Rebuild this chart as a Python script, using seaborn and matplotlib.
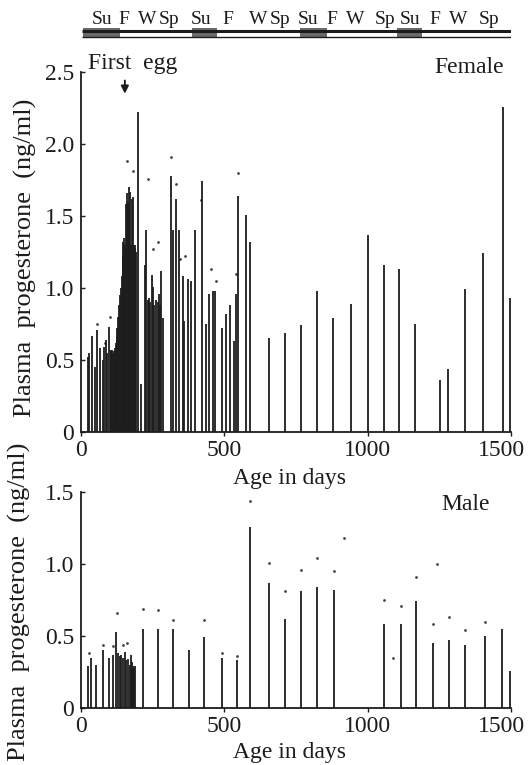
import numpy as np
import pandas as pd
import seaborn as sns
import matplotlib
matplotlib.use("Agg")
import matplotlib.pyplot as plt
from matplotlib.patches import Rectangle
from matplotlib.transforms import ScaledTranslation

# ---------------- data ----------------
season_labels = ["Su", "F", "W", "Sp", "Su", "F", "W", "Sp",
                 "Su", "F", "W", "Sp", "Su", "F", "W", "Sp"]
season_days = [72, 150, 232, 307, 418, 511, 618, 694,
               793, 874, 956, 1060, 1148, 1235, 1316, 1423]
summer_starts = [7, 387, 764, 1102]
summer_ends = [136, 474, 858, 1189]

female_days = [
    26, 29, 38, 50, 55, 66, 76, 80, 87, 92, 99,
    103, 106, 109, 112, 115, 118, 121, 124, 127, 130, 133, 136, 139, 142,
    145, 148, 151, 154, 157, 160, 163, 166, 169, 172, 175, 178, 181, 184,
    187, 190, 193,
    200, 208, 223, 226, 232, 237, 241, 246, 251, 256, 263, 267, 272, 276,
    280, 286,
    313, 320, 330, 343, 355, 361, 372, 383, 398, 421, 435, 448, 462, 468,
    492, 505, 520, 534, 540, 547, 575, 590,
    655, 710, 769, 824, 880, 943, 1002, 1057, 1109, 1165, 1252, 1281, 1339,
    1403, 1473, 1497]
female_values = [
    0.52, 0.55, 0.67, 0.45, 0.71, 0.58, 0.50, 0.59, 0.64, 0.55, 0.73,
    0.57, 0.56, 0.57, 0.55, 0.56, 0.58, 0.62, 0.66, 0.72, 0.80, 0.88, 0.95,
    1.00, 1.08, 1.22, 1.32, 1.35, 1.30, 1.58, 1.66, 1.60, 1.55, 1.70, 1.67,
    1.30, 1.62, 1.63, 1.30, 1.28, 1.30, 1.25,
    2.22, 0.33, 1.16, 1.40, 0.92, 0.93, 0.90, 1.09, 1.01, 0.88, 0.92, 0.90,
    0.96, 0.88, 1.12, 0.79,
    1.78, 1.40, 1.62, 1.40, 1.08, 0.77, 1.06, 1.05, 1.40, 1.74, 0.75, 0.96,
    0.98, 0.98, 0.72, 0.82, 0.88, 0.63, 0.96, 1.64, 1.51, 1.32,
    0.65, 0.69, 0.74, 0.98, 0.79, 0.89, 1.37, 1.16, 1.13, 0.75, 0.36, 0.44,
    0.99, 1.24, 2.26, 0.93]

female_dot_days = [55, 85, 100, 160, 181, 232, 250, 270, 314, 330, 345, 364,
                   418, 455, 470, 540, 546]
female_dot_values = [0.75, 0.62, 0.80, 1.88, 1.81, 1.76, 1.27, 1.32, 1.91,
                     1.72, 1.20, 1.22, 1.61, 1.13, 1.05, 1.10, 1.80]

male_days = [26, 34, 51, 78, 96, 111, 122, 130, 135, 141, 145, 153, 158, 165,
             170, 174, 178, 182, 185, 188, 215, 270, 322, 378, 429, 491, 543,
             590, 656, 710, 767, 824, 882, 1057, 1115, 1170, 1228, 1282, 1340,
             1409, 1468, 1497]
male_values = [0.29, 0.35, 0.30, 0.40, 0.35, 0.37, 0.53, 0.38, 0.36, 0.37,
               0.35, 0.39, 0.33, 0.34, 0.30, 0.37, 0.32, 0.29, 0.28, 0.29,
               0.55, 0.55, 0.55, 0.40, 0.49, 0.35, 0.33,
               1.26, 0.87, 0.62, 0.81, 0.84, 0.82, 0.58, 0.58, 0.74, 0.45,
               0.47, 0.44, 0.50, 0.55, 0.26]

male_dot_days = [29, 78, 111, 125, 145, 160, 215, 270, 322, 429, 491, 543,
                 590, 656, 710, 767, 824, 882, 917, 1057, 1090, 1115, 1170,
                 1228, 1242, 1282, 1340, 1409]
male_dot_values = [0.38, 0.44, 0.43, 0.66, 0.44, 0.45, 0.69, 0.68, 0.61, 0.61,
                   0.38, 0.36, 1.44, 1.01, 0.81, 0.96, 1.04, 0.95, 1.18, 0.75,
                   0.35, 0.71, 0.91, 0.58, 1.00, 0.63, 0.54, 0.60]

female_yticks = [0, 0.5, 1.0, 1.5, 2.0, 2.5]
female_yticklabels = ["0", "0.5", "1.0", "1.5", "2.0", "2.5"]
male_yticks = [0, 0.5, 1.0, 1.5]
male_yticklabels = ["0", "0.5", "1.0", "1.5"]
xticks = [0, 500, 1000, 1500]
xticklabels = ["0", "500", "1000", "1500"]

# ---------------- style ----------------
sns.set_style("ticks")
plt.rcParams["font.family"] = ["Liberation Serif", "DejaVu Serif"]
INK = "#1c1c1c"
YLABEL = "Plasma  progesterone  (ng/ml)"

W, H = 528, 765
fig = plt.figure(figsize=(W / 100, H / 100), dpi=100)
fig.patch.set_facecolor("white")


def ax_at(l, t, r, b):
    return fig.add_axes([l / W, 1 - b / H, (r - l) / W, (b - t) / H])


ax_f = ax_at(81, 72, 511, 432)
ax_m = ax_at(81, 492, 511, 708)
ax_s = ax_at(81, 6, 511, 42)

female = pd.DataFrame({"day": female_days, "value": female_values})
male = pd.DataFrame({"day": male_days, "value": male_values})
fdots = pd.DataFrame({"day": female_dot_days, "value": female_dot_values})
mdots = pd.DataFrame({"day": male_dot_days, "value": male_dot_values})


def style_axes(ax, ylim, yt, ytl):
    ax.set_xlim(0, 1500)
    ax.set_ylim(*ylim)
    ax.set_xticks(xticks)
    ax.set_xticklabels(xticklabels)
    ax.set_yticks(yt)
    ax.set_yticklabels(ytl)
    sns.despine(ax=ax)
    for s in ("left", "bottom"):
        ax.spines[s].set_linewidth(1.3)
        ax.spines[s].set_color(INK)
    ax.tick_params(axis="x", direction="out", length=3, width=1, pad=3,
                   labelsize=17, colors=INK)
    ax.tick_params(axis="y", direction="in", length=3, width=1, pad=5,
                   labelsize=17, colors=INK)
    ax.set_facecolor("white")
    last = ax.get_xticklabels()[-1]
    last.set_transform(last.get_transform() +
                       ScaledTranslation(-0.10, 0, fig.dpi_scale_trans))


# female panel
ax_f.vlines(female["day"], 0, female["value"], color=INK, lw=1.3)
sns.scatterplot(data=fdots, x="day", y="value", ax=ax_f, s=4, color="#444444",
                linewidth=0, legend=False)
style_axes(ax_f, (0, 2.5), female_yticks, female_yticklabels)
ax_f.set_xlabel("Age in days", fontsize=17, color=INK, va="center")
ax_f.xaxis.set_label_coords(0.486, -0.128)
ax_f.set_ylabel(YLABEL, fontsize=19, color=INK, va="center")
ax_f.yaxis.set_label_coords(-0.130, 0.483)
ax_f.text(24, 2.56, "First  egg", fontsize=17, color=INK, ha="left",
          va="center", clip_on=False)
ax_f.annotate("", xy=(153, 2.33), xytext=(153, 2.46),
              arrowprops=dict(arrowstyle="-|>", color=INK, lw=1.4,
                              mutation_scale=11), annotation_clip=False)
ax_f.text(1475, 2.53, "Female", fontsize=17, color=INK, ha="right",
          va="center", clip_on=False)

# male panel
ax_m.vlines(male["day"], 0, male["value"], color=INK, lw=1.3)
sns.scatterplot(data=mdots, x="day", y="value", ax=ax_m, s=4, color="#444444",
                linewidth=0, legend=False)
style_axes(ax_m, (0, 1.5), male_yticks, male_yticklabels)
ax_m.set_xlabel("Age in days", fontsize=17, color=INK, va="center")
ax_m.xaxis.set_label_coords(0.486, -0.204)
ax_m.set_ylabel(YLABEL, fontsize=19, color=INK, va="center")
ax_m.yaxis.set_label_coords(-0.142, 0.49)
ax_m.text(1427, 1.41, "Male", fontsize=17, color=INK, ha="right",
          va="center", clip_on=False)

# season band
ax_s.set_xlim(0, 1500)
ax_s.set_ylim(42, 6)
ax_s.axis("off")
for st, en in zip(summer_starts, summer_ends):
    ax_s.add_patch(Rectangle((st, 28), en - st, 9, color="#6a6a6a", lw=0))
ax_s.hlines(31, 5, 1500, color=INK, lw=2.2)
ax_s.hlines(36.5, 5, 1500, color=INK, lw=1.0)
for lab, d in zip(season_labels, season_days):
    ax_s.text(d, 20, lab, fontsize=14, color=INK, ha="center", va="center")

fig.savefig("out.png", dpi=100, facecolor="white")
